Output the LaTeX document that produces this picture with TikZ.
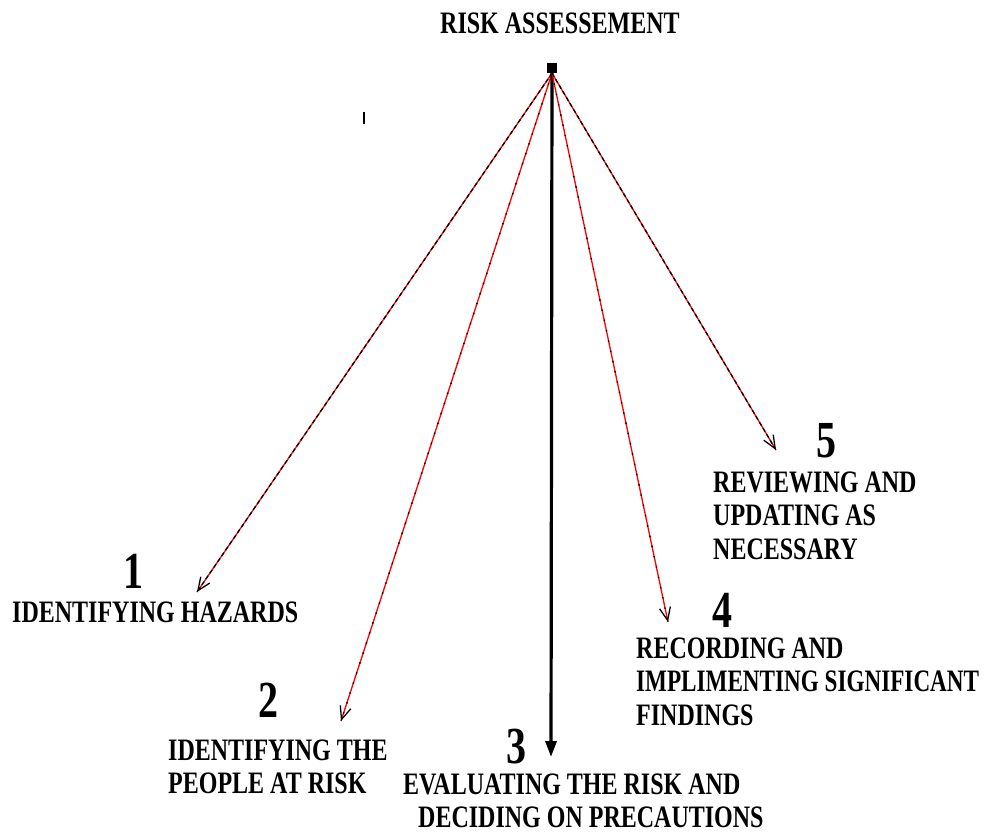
\documentclass[tikz,border=0pt]{standalone}
\usepackage{fontspec}
\setmainfont{Liberation Serif}
\usetikzlibrary{arrows.meta}
\newcommand{\stx}[1]{\scalebox{1}[1.3]{\begin{tabular}[t]{@{}l@{}}#1\end{tabular}}}
\begin{document}
\begin{tikzpicture}[x=1pt,y=-1pt,
  lbl/.style={inner sep=0pt,anchor=base west,font=\fontsize{24}{26}\selectfont\bfseries},
  num/.style={inner sep=0pt,anchor=base,font=\fontsize{40}{40}\selectfont\bfseries},
  redline/.style={red,line width=1.3pt},
  blackdash/.style={black,line width=1.3pt,dash pattern=on 4pt off 3pt},
  blackdot/.style={black,line width=1.3pt,dash pattern=on 1.5pt off 9pt},
  barb/.style={-{Straight Barb[black,length=13pt,width=11pt,line width=1.3pt]}},
  hubbox/.style={fill=black,minimum size=10pt,inner sep=0pt}]
\useasboundingbox (0,0) rectangle (988,833);
% title and hub
\node[lbl] (title) at (440,33) {\stx{RISK ASSESSEMENT}};
\node[hubbox] (hub) at (552,68) {};
\draw[line width=2pt] (364,112) -- (364,124);
% arrow ends
\coordinate (e1) at (197,592);
\coordinate (e2) at (341,721);
\coordinate (e3) at (551,757);
\coordinate (e4) at (668,622);
\coordinate (e5) at (776,450);
% arrows
\draw[redline] (hub.south) -- (e1);
\draw[blackdash,barb] (hub.south) -- (e1);
\draw[redline] (hub.south) -- (e2);
\draw[blackdot,barb] (hub.south) -- (e2);
\draw[black,line width=3.2pt,-{Triangle[length=16pt,width=11pt]}] (hub.south) -- (e3);
\draw[redline] (hub.south) -- (e4);
\draw[blackdot,barb] (hub.south) -- (e4);
\draw[redline] (hub.south) -- (e5);
\draw[blackdash,barb] (hub.south) -- (e5);
% numbers
\node[num] (n1) at (133,588) {\scalebox{1}[1.3]{1}};
\node[num] (n2) at (268,717) {\scalebox{1}[1.3]{2}};
\node[num] (n3) at (516,763) {\scalebox{1}[1.3]{3}};
\node[num] (n4) at (722,627) {\scalebox{1}[1.3]{4}};
\node[num] (n5) at (826,457) {\scalebox{1}[1.3]{5}};
% labels
\node[lbl] (l1) at (12,622) {\stx{IDENTIFYING HAZARDS}};
\node[lbl] (l2) at (168,760) {\stx{IDENTIFYING THE\\PEOPLE AT RISK}};
\node[lbl] (l3) at (403,794) {\stx{EVALUATING THE RISK AND\\\hspace*{15pt}DECIDING ON PRECAUTIONS}};
\node[lbl] (l4) at (636,658) {\stx{RECORDING AND\\\scalebox{0.965}[1]{IMPLIMENTING SIGNIFICANT}\\FINDINGS}};
\node[lbl] (l5) at (713,492) {\stx{REVIEWING AND\\UPDATING AS\\NECESSARY}};
\end{tikzpicture}
\end{document}
